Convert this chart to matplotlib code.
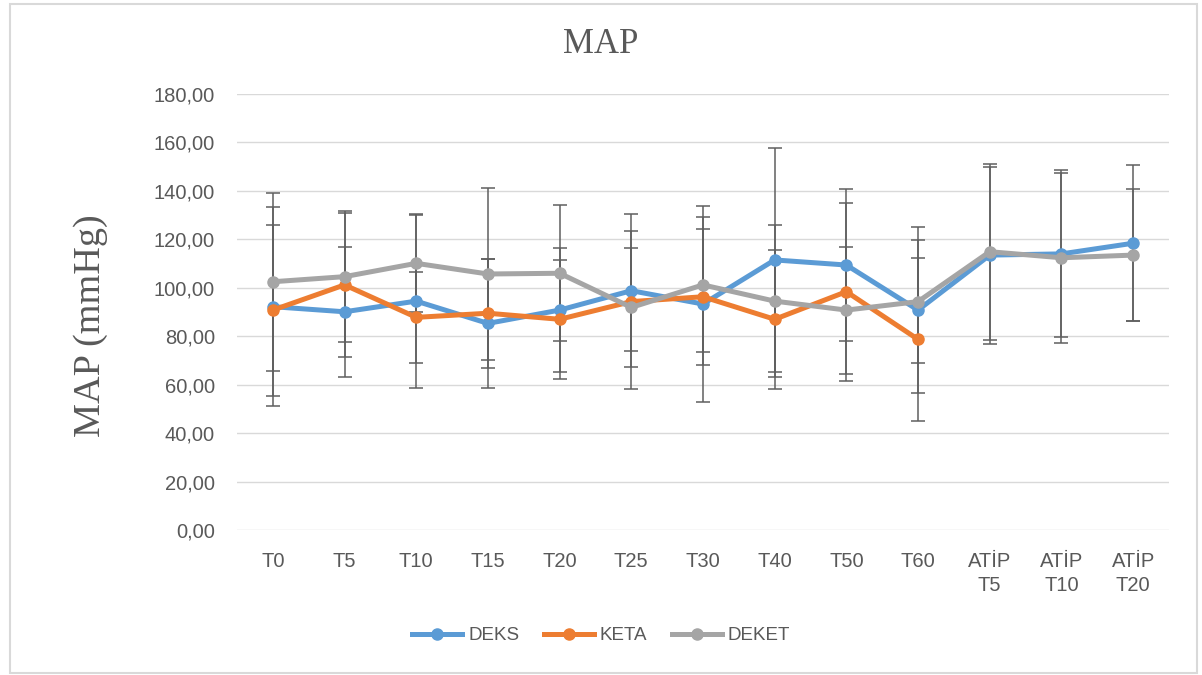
import numpy as np
import matplotlib
matplotlib.use('Agg')
import matplotlib.pyplot as plt
from matplotlib.patches import Rectangle
from matplotlib.lines import Line2D

# category labels on the x axis
categories = ['T0', 'T5', 'T10', 'T15', 'T20', 'T25', 'T30', 'T40', 'T50', 'T60',
              'ATİP\nT5', 'ATİP\nT10', 'ATİP\nT20']

# mean MAP values (mmHg) and standard deviations per group
deks = [92.2, 90.1, 94.5, 85.3, 90.8, 98.8, 93.3, 111.5, 109.4, 90.8, 113.5, 114.0, 118.4]
deks_sd = [41.0, 26.8, 36.0, 26.5, 25.5, 24.8, 40.3, 46.1, 31.3, 34.4, 36.5, 34.5, 32.1]

keta = [90.8, 101.2, 87.8, 89.5, 87.0, 94.3, 96.3, 87.0, 98.4, 78.7, np.nan, np.nan, np.nan]
keta_sd = [35.3, 29.6, 18.8, 22.5, 24.5, 36.0, 28.1, 28.6, 36.8, 33.5, np.nan, np.nan, np.nan]

deket = [102.5, 104.6, 110.1, 105.7, 106.0, 91.9, 101.2, 94.5, 90.8, 94.3, 114.9, 112.4, 113.5]
deket_sd = [36.8, 27.1, 20.0, 35.7, 28.1, 24.4, 27.9, 31.4, 26.2, 25.4, 36.3, 35.0, 27.2]

yticks = [0, 20, 40, 60, 80, 100, 120, 140, 160, 180]

series = [
    ('DEKS', deks, deks_sd, '#5B9BD5'),
    ('KETA', keta, keta_sd, '#ED7D31'),
    ('DEKET', deket, deket_sd, '#A5A5A5'),
]

text_color = '#595959'
sans = ['Liberation Sans', 'DejaVu Sans']
serif = ['Liberation Serif', 'DejaVu Serif']

fig = plt.figure(figsize=(12.02, 6.75), dpi=100)
ax = fig.add_axes([0.1972, 0.2148, 0.7753, 0.6459])

x = np.arange(len(categories))

# error bars first, underneath the lines
for name, vals, sd, color in series:
    ax.errorbar(x, vals, yerr=sd, fmt='none', ecolor='#5f5f5f', elinewidth=1.1,
                capsize=4.8, capthick=1.1, zorder=2)

for i, (name, vals, sd, color) in enumerate(series):
    ax.plot(x, vals, color=color, linewidth=3.6, marker='o', markersize=8,
            label=name, zorder=3 + i, solid_capstyle='round')

ax.set_xlim(-0.5, len(categories) - 0.5)
ax.set_ylim(0, 180)
ax.set_yticks(yticks)
ax.set_yticklabels([f'{v:.2f}'.replace('.', ',') for v in yticks],
                   fontsize=14.5, color=text_color, family=sans)
ax.set_xticks(x)
ax.set_xticklabels(categories, fontsize=14.5, color=text_color, family=sans,
                   linespacing=1.3, va='top')
ax.tick_params(axis='both', length=0)
ax.tick_params(axis='x', pad=16)
ax.tick_params(axis='y', pad=16)

ax.grid(axis='y', color='#D9D9D9', linewidth=1.0, zorder=0)
ax.set_axisbelow(True)
for s in ax.spines.values():
    s.set_visible(False)

ax.set_ylabel('MAP (mmHg)', fontsize=27.5, color=text_color, family=serif)
ax.yaxis.set_label_coords(-0.138, 0.468)
fig.text(0.5, 0.934, 'MAP', ha='center', va='center', fontsize=25,
         color=text_color, family=serif)

handles = [Line2D([], [], color=c, linewidth=3.6, marker='o', markersize=8)
           for _, _, _, c in series]
fig.legend(handles, [s[0] for s in series], loc='center', bbox_to_anchor=(0.5, 0.058),
           ncol=3, frameon=False, handlelength=2.7, columnspacing=1.3, handletextpad=0.3,
           prop={'family': sans, 'size': 13.5}, labelcolor=text_color)

# chart border
fig.patches.append(Rectangle((10 / 1202, 2 / 675), 1187 / 1202, 669 / 675,
                             transform=fig.transFigure, fill=False,
                             edgecolor='#D9D9D9', linewidth=1.5))

fig.savefig('out.png', dpi=100)
